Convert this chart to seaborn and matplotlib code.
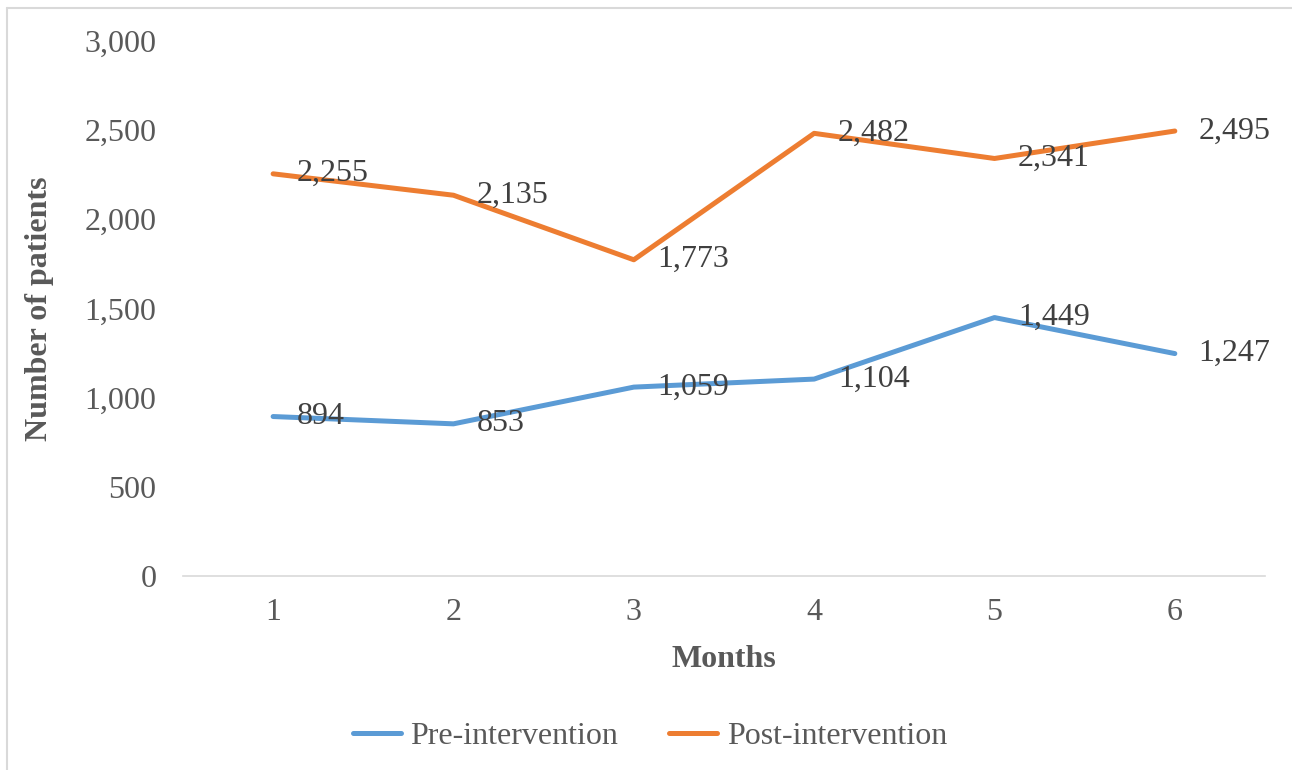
import matplotlib
matplotlib.use("Agg")
import matplotlib.pyplot as plt
from matplotlib.lines import Line2D
import seaborn as sns
import pandas as pd

months = ["1", "2", "3", "4", "5", "6"]
pre_intervention = [894, 853, 1059, 1104, 1449, 1247]
post_intervention = [2255, 2135, 1773, 2482, 2341, 2495]
series_names = ["Pre-intervention", "Post-intervention"]
series_colors = ["#5B9BD5", "#ED7D31"]
y_ticks = [0, 500, 1000, 1500, 2000, 2500, 3000]

sns.set_theme(style="white")
plt.rcParams["font.family"] = ["Liberation Serif", "DejaVu Serif"]

df = pd.DataFrame({
    "Month": months * 2,
    "Patients": pre_intervention + post_intervention,
    "Series": [series_names[0]] * len(months) + [series_names[1]] * len(months),
})

fs = 23
fig = plt.figure(figsize=(12.92, 7.70), dpi=100)
ax = fig.add_axes([0.1416, 0.252, 0.8375, 0.6948])

sns.lineplot(data=df, x="Month", y="Patients", hue="Series", hue_order=series_names,
             palette=series_colors, linewidth=3.6, sort=False, ax=ax, legend=False,
             solid_capstyle="round", solid_joinstyle="round")

# value labels to the right of each point
label_color = "#404040"
for vals in (pre_intervention, post_intervention):
    for i, v in enumerate(vals):
        ax.annotate(f"{v:,}", (i, v), xytext=(17, 0), textcoords="offset points",
                    ha="left", va="center", fontsize=fs, color=label_color)

ax.set_xlim(-0.5, len(months) - 0.5)
ax.set_ylim(0, 3000)
ax.set_yticks(y_ticks)
ax.set_yticklabels([f"{t:,}" for t in y_ticks])

tick_color = "#595959"
ax.tick_params(axis="both", length=0, labelsize=fs, labelcolor=tick_color)
ax.tick_params(axis="y", pad=19)
ax.tick_params(axis="x", pad=16)

for side in ("left", "right", "top"):
    ax.spines[side].set_visible(False)
ax.spines["bottom"].set_color("#D9D9D9")
ax.spines["bottom"].set_linewidth(1.2)
ax.grid(False)

ax.set_xlabel("Months", fontsize=fs, fontweight="bold", color=tick_color, labelpad=13)
ax.set_ylabel("Number of patients", fontsize=fs, fontweight="bold", color=tick_color, labelpad=22)

handles = [Line2D([0], [0], color=c, linewidth=3.6, solid_capstyle="round") for c in series_colors]
fig.legend(handles, series_names, loc="center", bbox_to_anchor=(0.503, 0.044), ncol=2,
           frameon=False, fontsize=fs, labelcolor=tick_color, handlelength=1.5,
           handletextpad=0.3, columnspacing=1.6)

# chart-area border (left and top edges)
fig.add_artist(Line2D([0.0054, 0.0054], [0, 0.9896], transform=fig.transFigure,
                      color="#D9D9D9", linewidth=1.5))
fig.add_artist(Line2D([0.0054, 1.0], [0.9896, 0.9896], transform=fig.transFigure,
                      color="#D9D9D9", linewidth=1.5))

fig.savefig("out.png", dpi=100, facecolor="white")
